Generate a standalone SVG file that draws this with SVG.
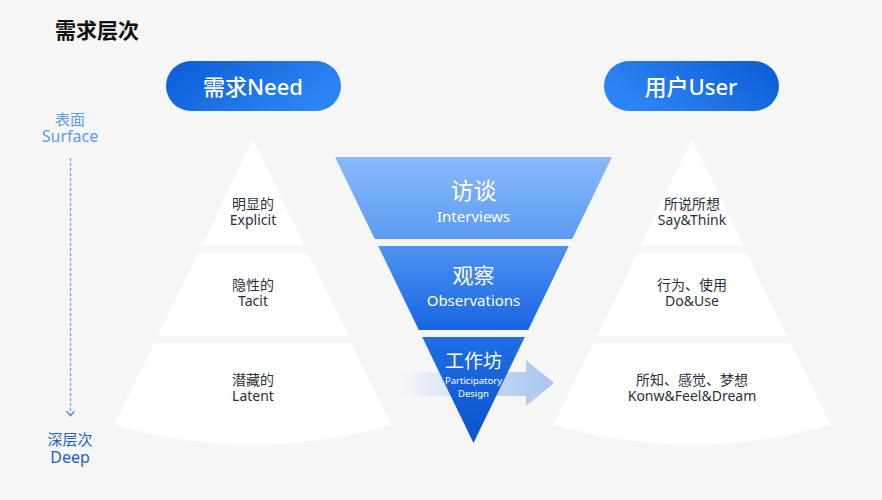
<svg xmlns="http://www.w3.org/2000/svg" width="882" height="500" viewBox="0 0 882 500">
  <defs>
    <linearGradient id="pillL" x1="0" y1="0" x2="1" y2="0.4">
      <stop offset="0" stop-color="#0a5bd5"/>
      <stop offset="1" stop-color="#2c84f3"/>
    </linearGradient>
    <linearGradient id="pillR" x1="0" y1="0.4" x2="1" y2="0">
      <stop offset="0" stop-color="#2c84f3"/>
      <stop offset="1" stop-color="#0a5bd5"/>
    </linearGradient>
    <linearGradient id="g1" x1="0" y1="0" x2="0" y2="1">
      <stop offset="0" stop-color="#8bb8f7"/>
      <stop offset="1" stop-color="#5b9cf2"/>
    </linearGradient>
    <linearGradient id="g2" x1="0" y1="0" x2="0" y2="1">
      <stop offset="0" stop-color="#4f92f2"/>
      <stop offset="1" stop-color="#1765e2"/>
    </linearGradient>
    <linearGradient id="g3" x1="0" y1="0" x2="0" y2="1">
      <stop offset="0" stop-color="#1f6ce4"/>
      <stop offset="1" stop-color="#0b54cc"/>
    </linearGradient>
    <linearGradient id="arrowG" x1="400" y1="0" x2="555" y2="0" gradientUnits="userSpaceOnUse">
      <stop offset="0" stop-color="#b8d1f5" stop-opacity="0"/>
      <stop offset="0.6" stop-color="#b3cdf4" stop-opacity="0.8"/>
      <stop offset="1" stop-color="#a7c5f2"/>
    </linearGradient>
    <marker id="chev" markerWidth="10" markerHeight="10" refX="7" refY="5" orient="auto" markerUnits="userSpaceOnUse">
      <path d="M2,1 L7,5 L2,9" fill="none" stroke="#5b8fd8" stroke-width="1.3"/>
    </marker>
  </defs>
  <style>
    .cn { font-family: "Noto Sans", "Noto Sans CJK SC", sans-serif; }
    .lbl { font-size: 14px; fill: #2b303b; text-anchor: middle; }
    .wt { fill: #ffffff; text-anchor: middle; }
    .layer { fill: #ffffff; }
  </style>
  <rect width="882" height="500" fill="#f6f6f7"/>

  <g id="title">
    <text x="55" y="38" class="cn" font-size="21" font-weight="700" fill="#111111">需求层次</text>
  </g>

  <g id="pill-need">
    <rect x="166" y="61" width="175" height="50" rx="25" fill="url(#pillL)"/>
    <text x="253" y="95" class="cn wt" font-size="22" font-weight="500">需求Need</text>
  </g>
  <g id="pill-user">
    <rect x="604" y="61" width="175" height="50" rx="25" fill="url(#pillR)"/>
    <text x="691" y="95" class="cn wt" font-size="22" font-weight="500">用户User</text>
  </g>

  <g id="axis-top">
    <text x="70" y="125" class="cn" font-size="15" fill="#5b9be8" text-anchor="middle">表面</text>
    <text x="70" y="142" class="cn" font-size="16" fill="#5b9be8" text-anchor="middle">Surface</text>
  </g>
  <g id="axis-bottom">
    <text x="70" y="445" class="cn" font-size="15" fill="#1f5fc4" text-anchor="middle">深层次</text>
    <text x="70" y="463" class="cn" font-size="16" fill="#1f5fc4" text-anchor="middle">Deep</text>
  </g>

  <g id="connectors">
    <line x1="70.5" y1="158" x2="70.5" y2="416" stroke="#7ea7de" stroke-width="1.4" stroke-dasharray="3 2" marker-end="url(#chev)"/>
    <path d="M400,372 L526,372 L526,360 L554,383 L526,406 L526,396 L400,396 Z" fill="url(#arrowG)"/>
  </g>

  <g id="need-explicit">
    <path class="layer" d="M253,139 L303.8,245 L202.2,245 Z"/>
    <text x="253" y="208.5" class="cn lbl">明显的</text>
    <text x="253" y="225" class="cn lbl">Explicit</text>
  </g>
  <g id="need-tacit">
    <path class="layer" d="M198.3,253 L307.7,253 L348.2,336 L157.8,336 Z"/>
    <text x="253" y="289.5" class="cn lbl">隐性的</text>
    <text x="253" y="306" class="cn lbl">Tacit</text>
  </g>
  <g id="need-latent">
    <path class="layer" d="M154.4,343 L351.6,343 L391.6,425 Q253,464 114.4,425 Z"/>
    <text x="253" y="384.5" class="cn lbl">潜藏的</text>
    <text x="253" y="401" class="cn lbl">Latent</text>
  </g>

  <g id="user-say">
    <path class="layer" d="M692,139 L742.8,245 L641.2,245 Z"/>
    <text x="692" y="208.5" class="cn lbl">所说所想</text>
    <text x="692" y="225" class="cn lbl">Say&amp;Think</text>
  </g>
  <g id="user-do">
    <path class="layer" d="M637.3,253 L746.7,253 L787.2,336 L596.8,336 Z"/>
    <text x="692" y="289.5" class="cn lbl">行为、使用</text>
    <text x="692" y="306" class="cn lbl">Do&amp;Use</text>
  </g>
  <g id="user-know">
    <path class="layer" d="M593.4,343 L790.6,343 L830.6,425 Q692,464 553.4,425 Z"/>
    <text x="692" y="384.5" class="cn lbl">所知、感觉、梦想</text>
    <text x="692" y="401" class="cn lbl">Konw&amp;Feel&amp;Dream</text>
  </g>

  <g id="method-interviews">
    <path d="M335,157 L612,157 L572.2,239 L374.8,239 Z" fill="url(#g1)"/>
    <text x="473.5" y="199" class="cn wt" font-size="23">访谈</text>
    <text x="473.5" y="222" class="cn wt" font-size="15">Interviews</text>
  </g>
  <g id="method-observations">
    <path d="M378.2,246 L568.8,246 L528.2,330 L418.8,330 Z" fill="url(#g2)"/>
    <text x="473.5" y="283" class="cn wt" font-size="21">观察</text>
    <text x="473.5" y="306" class="cn wt" font-size="15">Observations</text>
  </g>
  <g id="method-workshop">
    <path d="M422.2,337 L524.8,337 L473.5,443 Z" fill="url(#g3)"/>
    <text x="473.5" y="368" class="cn wt" font-size="19">工作坊</text>
    <text x="473.5" y="384" class="cn wt" font-size="9.5">Participatory</text>
    <text x="473.5" y="397" class="cn wt" font-size="9.5">Design</text>
  </g>
</svg>
